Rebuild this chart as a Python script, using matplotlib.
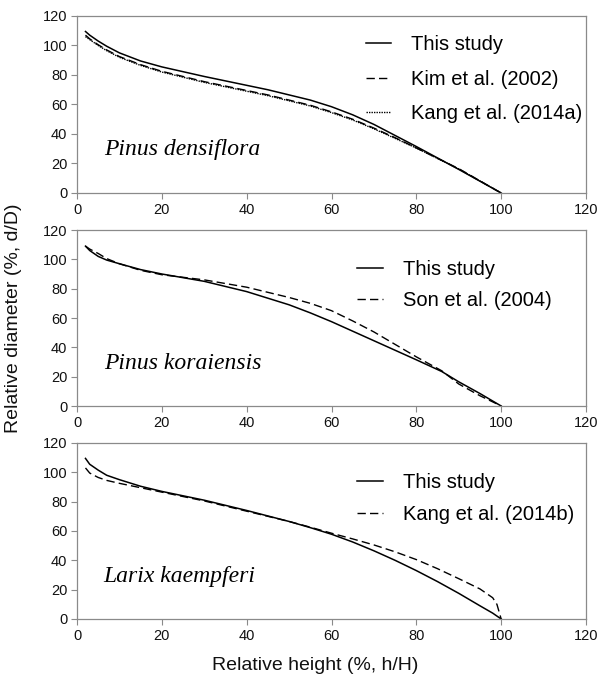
import matplotlib.pyplot as plt
import numpy as np

# relative height (%) and relative diameter (%)
dens_h = [2, 3, 5, 7, 10, 15, 20, 30, 40, 45, 50, 55, 60, 65, 70, 75, 80, 90, 100]
dens_this = [109.5, 107, 103, 99.5, 95, 89.5, 85.5, 79, 73, 70, 66.5, 63, 58.5, 53, 46.5, 39, 31.5, 16, 0]
dens_kim = [107, 104.5, 100.5, 97, 92.5, 87, 82.5, 75.5, 69.5, 66.5, 63, 59.5, 55, 50, 44, 37.5, 30.5, 16.5, 0]
dens_kang = [106, 104, 100, 96.5, 92, 86.5, 82, 75, 69, 66, 62.5, 59, 54.5, 49.5, 43.5, 37, 30.5, 16.3, 0]

kor_h = [2, 3, 5, 7, 10, 15, 20, 30, 40, 50, 55, 60, 65, 70, 75, 80, 86, 90, 95, 100]
kor_this = [109, 106, 102, 99.5, 97, 93, 90, 85, 78, 69, 63.5, 57.5, 51, 44.5, 38, 31.5, 23.5, 16.5, 8.5, 0]
kor_son = [109, 107, 104, 100.5, 97, 92.5, 89.5, 86, 81, 74, 70, 65, 58, 50.5, 42, 33.5, 24, 15, 7, 0]

lar_h = [2, 3, 5, 7, 10, 15, 20, 30, 40, 50, 55, 60, 65, 70, 75, 80, 85, 90, 95, 98, 99, 100]
lar_this = [109.5, 105.5, 101.5, 98, 95, 90.5, 87, 81, 74, 66.5, 62.3, 57.8, 52.5, 46.5, 40, 33, 25.5, 17.5, 9, 4, 2, 0]
lar_kang = [103, 99.5, 96.5, 94.5, 92.5, 89.5, 86.5, 80.5, 73.5, 66.5, 62.6, 58.5, 54.6, 50.5, 45.8, 40.5, 34.3, 27.5, 20.5, 14.5, 10, 0]

ticks = [0, 20, 40, 60, 80, 100, 120]

W, H = 599, 677
fig = plt.figure(figsize=(W / 100, H / 100), dpi=100)
plt.rcParams['font.family'] = ['Liberation Sans', 'DejaVu Sans']

grey = '#8a8a8a'
left, right = 77, 586
panels = [
    (16, 193, 'Pinus densiflora', dens_h,
     [(dens_this, '-', 'This study'), (dens_kim, (0, (6, 3)), 'Kim et al. (2002)'),
      (dens_kang, (0, (1, 0.8)), 'Kang et al. (2014a)')], 0.567, 0.89, 0.75),
    (230, 406, 'Pinus koraiensis', kor_h,
     [(kor_this, '-', 'This study'), (kor_son, (0, (6, 3)), 'Son et al. (2004)')], 0.551, 0.83, 0.6),
    (443, 619, 'Larix kaempferi', lar_h,
     [(lar_this, '-', 'This study'), (lar_kang, (0, (6, 3)), 'Kang et al. (2014b)')], 0.551, 0.83, 0.65),
]

for top, bottom, name, h, series, lx, ly, sp_ in panels:
    ax = fig.add_axes([left / W, 1 - bottom / H, (right - left) / W, (bottom - top) / H])
    for vals, ls, lab in series:
        lw = 1.0 if ls != '-' else 1.1
        ax.plot(h, vals, color='black', linestyle=ls, linewidth=lw, label=lab)
    ax.set_xlim(0, 120)
    ax.set_ylim(0, 120)
    ax.set_xticks(ticks)
    ax.set_yticks(ticks)
    ax.tick_params(direction='out', length=4, width=0.8, color=grey,
                   labelsize=10.5, labelcolor='#111111', pad=3)
    for sp in ax.spines.values():
        sp.set_color(grey)
        sp.set_linewidth(0.9)
    ax.text(6.3, 25.5, name, family=['Liberation Serif', 'DejaVu Serif'],
            style='italic', fontsize=17, va='baseline')
    ax.legend(loc='upper left', bbox_to_anchor=(lx, ly), frameon=False,
              fontsize=14.5, handlelength=1.25, handletextpad=1.0,
              labelspacing=sp_, borderaxespad=0, borderpad=0)

fig.text(14 / W, 1 - 318 / H, 'Relative diameter (%, d/D)', rotation=90,
         fontsize=14, ha='center', va='center', color='#111111')
fig.text(315 / W, 1 - 666 / H, 'Relative height (%, h/H)',
         fontsize=14, ha='center', va='center', color='#111111')

fig.savefig('out.png', dpi=100)
